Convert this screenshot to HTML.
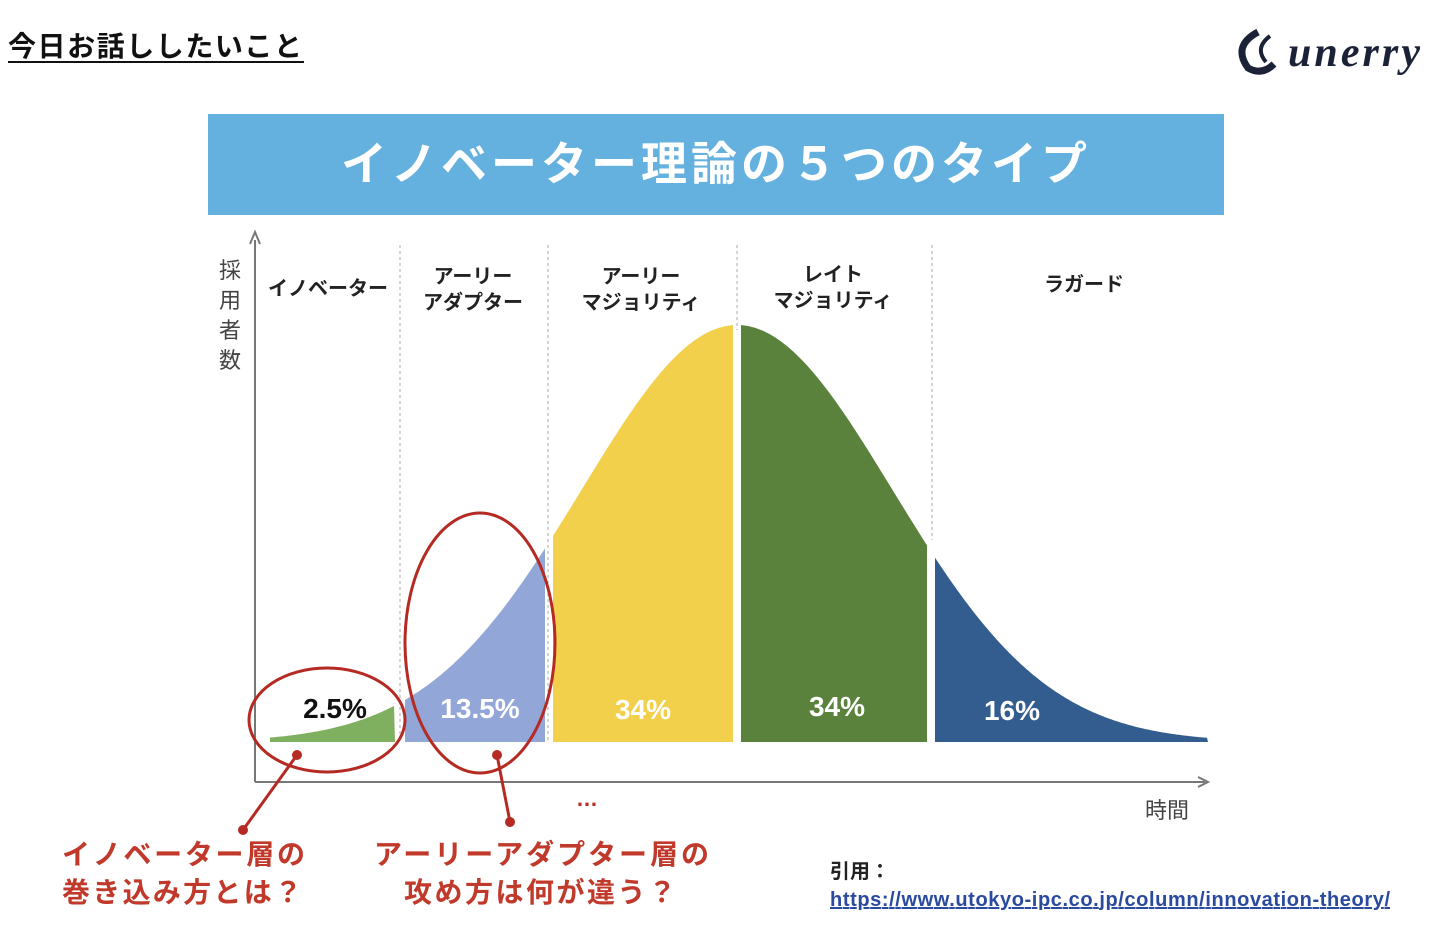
<!DOCTYPE html>
<html><head><meta charset="utf-8"><style>
body{margin:0;background:#fff;}
svg{display:block;font-family:"Liberation Sans","Noto Sans CJK JP",sans-serif;}
</style></head><body>
<svg id="s" width="1440" height="937" viewBox="0 0 1440 937">
<text x="8" y="56" font-size="28" font-weight="bold" fill="#111" textLength="294">今日お話ししたいこと</text>
<line x1="8" y1="62" x2="304" y2="62" stroke="#111" stroke-width="2"/>
<text x="1288" y="66" font-size="42" font-weight="bold" font-style="italic" fill="#1b2238" font-family="Liberation Serif,serif" textLength="132">unerry</text>
<path d="M1258 32 q-26 14 -10 36 q14 8 26 -4" fill="none" stroke="#1b2238" stroke-width="7"/>
<path d="M1270 36 q-16 12 -4 26" fill="none" stroke="#1b2238" stroke-width="4"/>
<rect x="208" y="114" width="1016" height="101" fill="#64b0de"/>
<text x="716" y="180" font-size="46" font-weight="bold" fill="#fff" text-anchor="middle" letter-spacing="4">イノベーター理論の５つのタイプ</text>
<line x1="255" y1="782" x2="255" y2="240" stroke="#777" stroke-width="2"/>
<path d="M250 244 L255 232 L260 244" fill="none" stroke="#777" stroke-width="2"/>
<line x1="255" y1="782" x2="1205" y2="782" stroke="#777" stroke-width="2"/>
<path d="M1198 777 L1208 782 L1198 787" fill="none" stroke="#777" stroke-width="2"/>
<g font-size="22" fill="#444"><text x="219" y="278">採</text><text x="219" y="308">用</text><text x="219" y="338">者</text><text x="219" y="368">数</text></g>
<text x="1145" y="818" font-size="22" fill="#444">時間</text>
<g stroke="#aaa" stroke-dasharray="3,3" stroke-width="1"><line x1="400" y1="245" x2="400" y2="740"/><line x1="548" y1="245" x2="548" y2="740"/><line x1="737" y1="245" x2="737" y2="330"/><line x1="932" y1="245" x2="932" y2="540"/></g>
<g font-size="20" font-weight="bold" fill="#222" text-anchor="middle">
<text x="328" y="295">イノベーター</text>
<text x="473" y="283">アーリー</text><text x="473" y="309">アダプター</text>
<text x="641" y="283">アーリー</text><text x="641" y="309">マジョリティ</text>
<text x="833" y="281">レイト</text><text x="833" y="307">マジョリティ</text>
<text x="1084" y="291">ラガード</text></g>
<g id="curves"></g>
<g font-size="28" font-weight="bold" text-anchor="middle">
<text x="335" y="718" fill="#111">2.5%</text>
<text x="480" y="718" fill="#fff">13.5%</text>
<text x="643" y="719" fill="#fff">34%</text>
<text x="837" y="716" fill="#fff">34%</text>
<text x="1012" y="720" fill="#fff">16%</text></g>
<g stroke="#b52a22" stroke-width="3" fill="none">
<ellipse cx="327" cy="720" rx="78" ry="52"/>
<ellipse cx="480" cy="643" rx="75" ry="130"/>
<line x1="297" y1="755" x2="243" y2="830"/><line x1="497" y1="755" x2="510" y2="822"/></g>
<g fill="#b52a22"><circle cx="297" cy="755" r="5"/><circle cx="243" cy="830" r="5"/><circle cx="497" cy="755" r="5"/><circle cx="510" cy="822" r="5"/></g>
<text x="587" y="806" font-size="22" font-weight="bold" fill="#b52a22" text-anchor="middle">…</text>
<g font-size="28" font-weight="bold" fill="#c0392b">
<text x="62" y="864" textLength="243">イノベーター層の</text><text x="62" y="902" textLength="240">巻き込み方とは？</text>
<text x="374" y="864" textLength="335">アーリーアダプター層の</text><text x="404" y="902" textLength="272">攻め方は何が違う？</text></g>
<text x="830" y="878" font-size="20" font-weight="bold" fill="#222">引用：</text>
<text x="830" y="906" font-size="20" font-weight="bold" fill="#2a4aa0" text-decoration="underline" textLength="560">https://www.utokyo-ipc.co.jp/column/innovation-theory/</text>
</svg>
<script>
const f=x=>742-417*Math.exp(-((x-737)**2)/(2*155*155));
const segs=[[270,395,'#7fb060'],[405,545,'#93a6d8'],[553,733,'#f2d04b'],[741,927,'#5b823c'],[935,1208,'#335d8f']];
let h='';
for(const [a,b,c] of segs){let d=`M${a} 742`;for(let x=a;x<=b;x+=2)d+=` L${x} ${f(x).toFixed(1)}`;d+=` L${b} 742 Z`;h+=`<path d="${d}" fill="${c}"/>`;}
document.getElementById('curves').innerHTML=h;
</script>
</body></html>
